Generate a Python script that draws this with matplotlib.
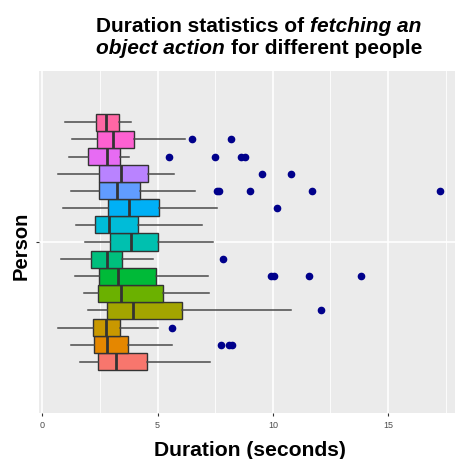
import matplotlib
matplotlib.use("Agg")
import matplotlib.pyplot as plt

plt.rcParams['font.family'] = ['Liberation Sans', 'DejaVu Sans']

# Per-person duration summaries (seconds), listed from the bottom box to the top box
people = [f"P{i}" for i in range(1, 16)]
whisker_low = [1.63, 1.24, 0.69, 1.99, 1.82, 1.42, 0.80, 1.85, 1.46, 0.91, 1.23, 0.69, 1.16, 1.27, 0.98]
q1 = [2.43, 2.24, 2.21, 2.82, 2.43, 2.47, 2.11, 2.93, 2.30, 2.83, 2.46, 2.47, 1.99, 2.36, 2.33]
median = [3.18, 2.79, 2.76, 3.92, 3.40, 3.30, 2.79, 3.83, 2.90, 3.77, 3.22, 3.40, 2.79, 3.05, 2.75]
q3 = [4.52, 3.70, 3.37, 6.04, 5.25, 4.91, 3.47, 5.03, 4.16, 5.07, 4.23, 4.59, 3.37, 3.99, 3.34]
whisker_high = [7.27, 5.61, 5.03, 10.78, 7.24, 7.20, 4.78, 7.41, 6.91, 7.56, 6.62, 5.71, 3.76, 6.19, 3.85]
outliers = [
    [],
    [7.75, 8.09, 8.22],
    [5.61],
    [12.09],
    [],
    [9.90, 10.06, 11.58, 13.84],
    [7.83],
    [],
    [],
    [10.17],
    [7.59, 7.67, 9.02, 11.69, 17.27],
    [9.54, 10.78],
    [5.48, 7.47, 8.60, 8.80],
    [6.50, 8.18],
    [],
]
fill_colors = ["#F8766D", "#E58700", "#C99800", "#A3A500", "#6BB100", "#00BA38", "#00BF7D",
               "#00C0AF", "#00BCD8", "#00B0F6", "#619CFF", "#B983FF", "#E76BF3", "#FD61D1", "#FF67A4"]
x_ticks = [0, 5, 10, 15]

W, H = 455, 459
fig = plt.figure(figsize=(W / 100, H / 100), dpi=100)
fig.patch.set_facecolor("white")

# panel in pixel coordinates
pl, pr, pt, pb = 39, 455, 71, 413
ax = fig.add_axes([pl / W, 1 - pb / H, (pr - pl) / W, (pb - pt) / H])
ax.set_facecolor("#EBEBEB")
for s in ax.spines.values():
    s.set_visible(False)

n = len(people)
step = 0.9 / n
positions = [1 + (i - (n - 1) / 2) * step for i in range(n)]

stats = []
for i in range(n):
    stats.append(dict(label=people[i], med=median[i], q1=q1[i], q3=q3[i],
                      whislo=whisker_low[i], whishi=whisker_high[i], fliers=outliers[i]))

line_col = "#333333"
bp = ax.bxp(stats, positions=positions, widths=step, orientation="horizontal",
            patch_artist=True, showcaps=False, manage_ticks=False,
            boxprops=dict(edgecolor=line_col, linewidth=1.0),
            whiskerprops=dict(color="#4a4a4a", linewidth=1.1),
            medianprops=dict(color=line_col, linewidth=2.0),
            flierprops=dict(marker="o", markerfacecolor="#00008B", markeredgecolor="#00008B",
                            markersize=4.5, linestyle="none"))
for patch, c in zip(bp["boxes"], fill_colors):
    patch.set_facecolor(c)
    patch.set_zorder(3)
for key in ("whiskers", "medians", "fliers"):
    for a in bp[key]:
        a.set_zorder(3 if key != "medians" else 4)

ax.set_xlim(-0.143, 17.90)
ax.set_ylim(0.4, 1.6)

# grid lines
ax.set_xticks(x_ticks)
ax.set_xticklabels([str(v) for v in x_ticks])
ax.set_xticks([2.5, 7.5, 12.5, 17.5], minor=True)
ax.set_yticks([1.0])
ax.set_yticklabels([""])
ax.grid(True, which="major", color="white", linewidth=1.2, zorder=0)
ax.grid(True, which="minor", axis="x", color="white", linewidth=0.6, zorder=0)
ax.set_axisbelow(True)
ax.tick_params(axis="x", which="major", length=2.5, width=0.8, color="#333333",
               labelsize=6.5, labelcolor="#4D4D4D", pad=3)
ax.tick_params(axis="x", which="minor", length=0)
ax.tick_params(axis="y", which="major", length=2.0, width=0.8, color="#333333")

# axis titles
fig.text(250 / W, 1 - 456.5 / H, "Duration (seconds)", ha="center", va="baseline",
         fontsize=15.2, fontweight="bold", color="black")
fig.text(27 / W, 1 - 246 / H, "Person", ha="center", va="baseline", rotation=90,
         rotation_mode="anchor", fontsize=14.5, fontweight="bold", color="black")

# two-line title with italic phrases
fig.canvas.draw()
renderer = fig.canvas.get_renderer()
tsize = 15.0


def width_of(txt, style):
    t = fig.text(0, 0, txt, fontsize=tsize, fontweight="bold", fontstyle=style)
    w = t.get_window_extent(renderer).width
    t.remove()
    return w


space_w = width_of("a a", "normal") - width_of("aa", "normal")
title_lines = [
    ([("Duration statistics of", "normal"), ("fetching an", "italic")], 31.7),
    ([("object action", "italic"), ("for different people", "normal")], 53.5),
]
cx = 259
for pieces, base in title_lines:
    widths = [width_of(s, st) for s, st in pieces]
    total = sum(widths) + space_w * (len(pieces) - 1)
    x = cx - total / 2
    for (s, st), w in zip(pieces, widths):
        fig.text(x / W, 1 - base / H, s, fontsize=tsize, fontweight="bold", fontstyle=st,
                 ha="left", va="baseline", color="black")
        x += w + space_w

fig.savefig("out.png", dpi=100, facecolor="white")
